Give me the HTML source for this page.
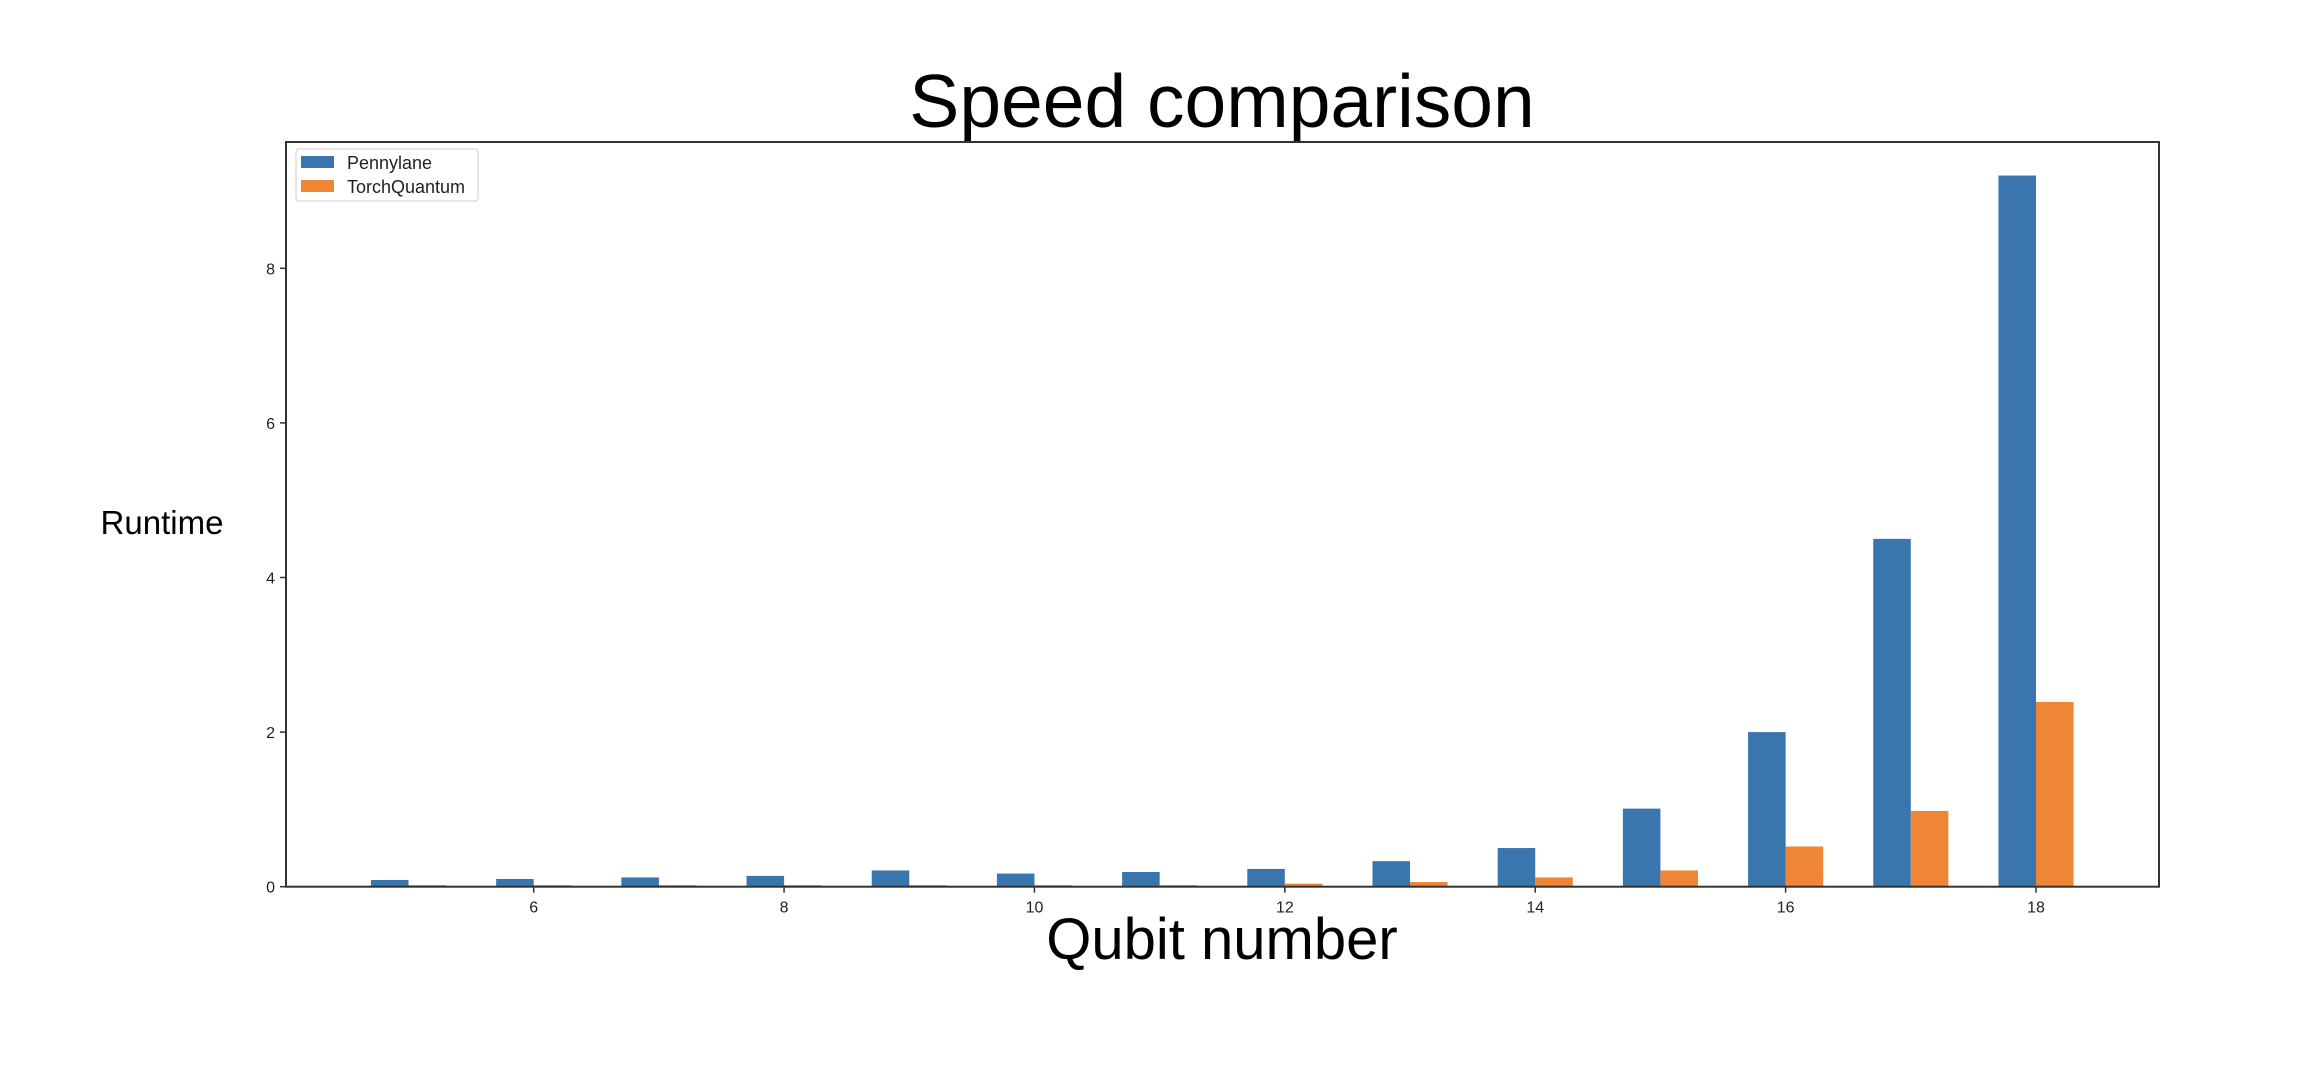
<!DOCTYPE html>
<html><head><meta charset="utf-8"><style>
html,body{margin:0;padding:0;background:#fff;}
svg{display:block;font-family:"Liberation Sans",sans-serif;}
</style></head><body>
<svg id="chart" width="2298" height="1070" viewBox="0 0 2298 1070">
<text x="1222" y="127" font-size="75" text-anchor="middle" fill="#000">Speed comparison</text>
<text x="1222" y="959" font-size="58" text-anchor="middle" fill="#000">Qubit number</text>
<text x="162" y="534" font-size="33" text-anchor="middle" fill="#000">Runtime</text>
<g id="bars"></g>
<g id="axes"></g>
<g>
<rect x="296" y="149" width="182" height="52" rx="3" fill="#fff" stroke="#ddd" stroke-width="1.5"/>
<rect x="301" y="156" width="33" height="12" fill="#3a75ae"/>
<text x="347" y="169" font-size="18" fill="#222">Pennylane</text>
<rect x="301" y="180" width="33" height="12" fill="#ef8636"/>
<text x="347" y="193" font-size="18" fill="#222">TorchQuantum</text>
</g>
</svg>
<script>
const qubits = [5,6,7,8,9,10,11,12,13,14,15,16,17,18];
const pennylane = [0.087,0.10,0.12,0.14,0.21,0.17,0.19,0.23,0.33,0.50,1.01,2.0,4.5,9.2];
const torchquantum = [0.02,0.02,0.02,0.02,0.02,0.02,0.02,0.04,0.06,0.12,0.21,0.52,0.98,2.39];
const xTicks = [6,8,10,12,14,16,18];
const yTicks = [0,2,4,6,8];

const L=286,R=2159,T=142,B=886.7;
const pxPerX=(2036-533.7)/12;
const X=v=>533.7+(v-6)*pxPerX;
const pxPerY=(B-268.3)/8;
const Y=v=>B-v*pxPerY;
const NS='http://www.w3.org/2000/svg';
const bars=document.getElementById('bars');
const axes=document.getElementById('axes');
const bw=0.3*pxPerX;
function mk(tag,attrs,parent){const e=document.createElementNS(NS,tag);for(const k in attrs)e.setAttribute(k,attrs[k]);parent.appendChild(e);return e;}
qubits.forEach((q,i)=>{
  const b=mk('rect',{x:X(q)-bw,y:Y(pennylane[i]),width:bw,height:B-Y(pennylane[i]),fill:'#3a75ae'},bars);
  
  
  const o=mk('rect',{x:X(q),y:Y(torchquantum[i]),width:bw,height:B-Y(torchquantum[i]),fill:'#ef8636'},bars);
  
  
});
const frame=mk('rect',{x:L,y:T,width:R-L,height:B-T,fill:'none',stroke:'#333','stroke-width':2},axes);


xTicks.forEach(t=>{
  mk('line',{x1:X(t),x2:X(t),y1:B,y2:B+6,stroke:'#333','stroke-width':1.5},axes);
  const tx=mk('text',{x:X(t),y:B+26,'font-size':16,'text-anchor':'middle',fill:'#222'},axes);
  tx.textContent=t;
  
  
});
yTicks.forEach(t=>{
  mk('line',{x1:L-6,x2:L,y1:Y(t),y2:Y(t),stroke:'#333','stroke-width':1.5},axes);
  const tx=mk('text',{x:L-11,y:Y(t)+6,'font-size':16,'text-anchor':'end',fill:'#222'},axes);
  tx.textContent=t;
  
  
});
</script>
</body></html>
